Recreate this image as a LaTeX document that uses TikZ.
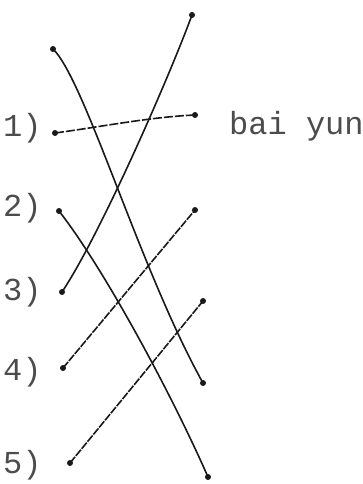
\documentclass[tikz,border=0pt]{standalone}
\usepackage{fontspec}
\setmonofont{Liberation Mono}
\begin{document}
\begin{tikzpicture}[x=1pt,y=-1pt,
  dotm/.style={circle,fill=black!90,inner sep=0pt,minimum size=6pt},
  lbl/.style={anchor=base west,inner sep=0pt,font=\ttfamily\fontsize{32}{32}\selectfont,text=black!70},
  wire/.style={draw=black!90,line width=1.6pt},
  sketchy/.style={wire,dash pattern=on 8pt off 1.2pt},
  sketchyb/.style={wire,dash pattern=on 9pt off 2pt}]
\useasboundingbox (0,0) rectangle (363,484);
% end points
\node[dotm] (TL) at (53,49) {};
\node[dotm] (T)  at (192,15) {};
\node[dotm] (L1) at (55,133) {};
\node[dotm] (L2) at (59,211) {};
\node[dotm] (L3) at (62,292) {};
\node[dotm] (L4) at (63,368) {};
\node[dotm] (L5) at (70,463) {};
\node[dotm] (R1) at (195,115) {};
\node[dotm] (R2) at (195,210) {};
\node[dotm] (R3) at (203,301) {};
\node[dotm] (R4) at (203,383) {};
\node[dotm] (R5) at (208,477) {};
% labels
\node[lbl] (n1) at (3,136) {1)};
\node[lbl] (n2) at (3,216) {2)};
\node[lbl] (n3) at (3,300) {3)};
\node[lbl] (n4) at (3,380) {4)};
\node[lbl] (n5) at (3,473) {5)};
\node[lbl] (by) at (229,135) {bai yun};
% connectors
\draw[wire] (TL.center) .. controls (85,80) and (140,270) .. (R4.center);
\draw[wire] (L3.center) .. controls (100,235) and (168,80) .. (T.center);
\draw[wire] (L2.center) .. controls (105,270) and (172,395) .. (R5.center);
\draw[sketchyb] (L1.center) .. controls (100,127) and (150,117) .. (R1.center);
\draw[sketchy] (L4.center) -- (R2.center);
\draw[sketchy] (L5.center) -- (R3.center);
\end{tikzpicture}
\end{document}
